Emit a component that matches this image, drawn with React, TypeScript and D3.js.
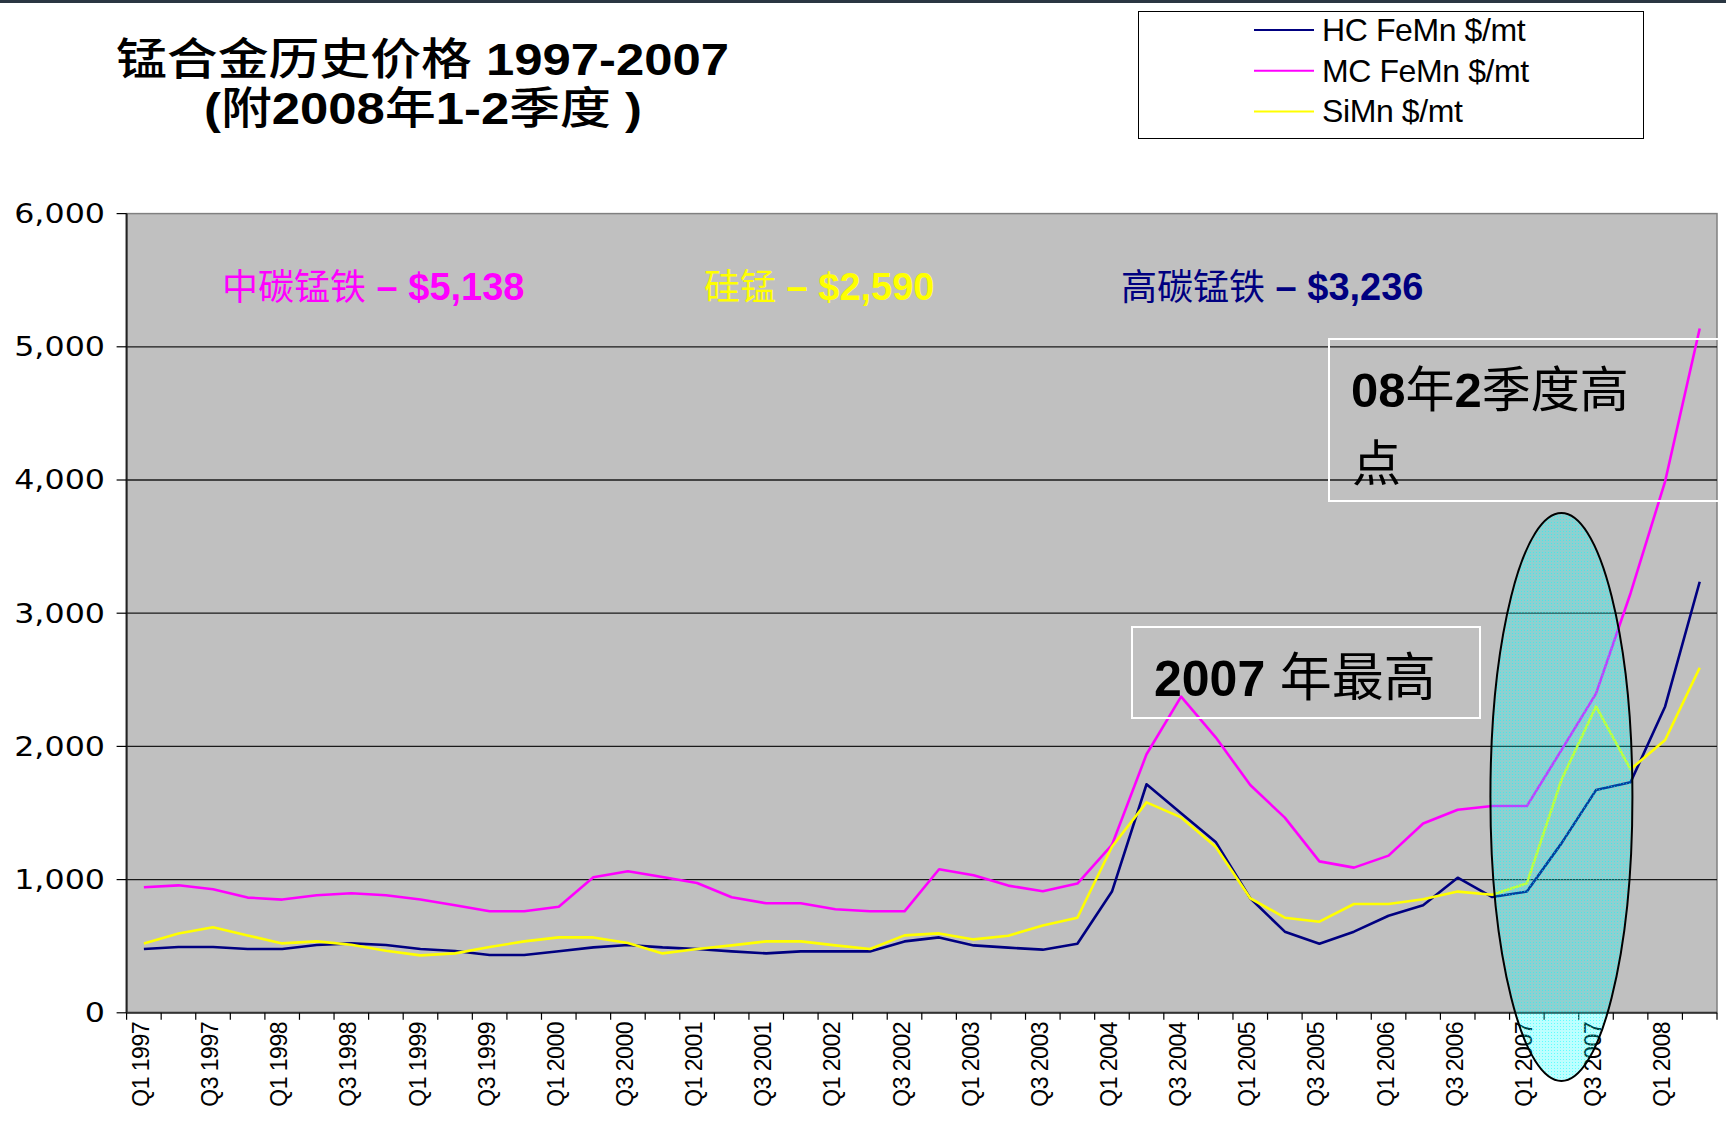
import React from "react";
import * as d3 from "d3";

// quarterly prices, Q1 1997 .. Q2 2008
const categories = [
  "Q1 1997", "Q2 1997", "Q3 1997", "Q4 1997",
  "Q1 1998", "Q2 1998", "Q3 1998", "Q4 1998",
  "Q1 1999", "Q2 1999", "Q3 1999", "Q4 1999",
  "Q1 2000", "Q2 2000", "Q3 2000", "Q4 2000",
  "Q1 2001", "Q2 2001", "Q3 2001", "Q4 2001",
  "Q1 2002", "Q2 2002", "Q3 2002", "Q4 2002",
  "Q1 2003", "Q2 2003", "Q3 2003", "Q4 2003",
  "Q1 2004", "Q2 2004", "Q3 2004", "Q4 2004",
  "Q1 2005", "Q2 2005", "Q3 2005", "Q4 2005",
  "Q1 2006", "Q2 2006", "Q3 2006", "Q4 2006",
  "Q1 2007", "Q2 2007", "Q3 2007", "Q4 2007",
  "Q1 2008", "Q2 2008",
];

const hcFeMn = [
  479, 494, 494, 479, 479, 509, 521, 509, 479, 464, 434, 434,
  462, 491, 509, 491, 479, 461, 446, 461, 461, 461, 536, 566,
  506, 489, 474, 519, 910, 1716, 1498, 1283, 860, 609, 519, 609,
  729, 807, 1014, 869, 910, 1272, 1672, 1731, 2300, 3236,
];

const mcFeMn = [
  942, 957, 927, 865, 850, 882, 897, 882, 850, 807, 762, 762,
  796, 1017, 1063, 1020, 975, 867, 822, 822, 777, 762, 762, 1078,
  1032, 955, 912, 970, 1260, 1941, 2374, 2068, 1710, 1465, 1137, 1090,
  1180, 1421, 1524, 1552, 1552, 1972, 2396, 3150, 3990, 5138,
];

const siMn = [
  521, 596, 642, 581, 521, 536, 511, 466, 431, 446, 494, 536,
  566, 566, 524, 446, 479, 506, 536, 536, 506, 479, 581, 596,
  551, 579, 655, 714, 1247, 1580, 1467, 1247, 860, 714, 684, 817,
  817, 852, 910, 886, 972, 1748, 2300, 1828, 2048, 2590,
];

const yTicks = [0, 1000, 2000, 3000, 4000, 5000, 6000];

const series = [
  { name: "HC FeMn $/mt", color: "#000080", values: hcFeMn },
  { name: "MC FeMn $/mt", color: "#FF00FF", values: mcFeMn },
  { name: "SiMn $/mt", color: "#FFFF00", values: siMn },
];

const W = 1726;
const H = 1134;
const plot = { left: 126.6, right: 1717, top: 213.6, bottom: 1012.8 };
const latin = "'Liberation Sans', Arial, 'Noto Sans CJK SC', sans-serif";

export default function App() {
  const x = d3
    .scaleBand<string>()
    .domain(categories)
    .range([plot.left, plot.right])
    .padding(0);
  const y = d3.scaleLinear().domain([0, 6000]).range([plot.bottom, plot.top]);
  const cx = (c: string) => (x(c) as number) + x.bandwidth() / 2;

  const line = d3
    .line<number>()
    .x((_, i) => cx(categories[i]))
    .y((d) => y(d));

  // boundaries for x ticks
  const bounds = categories.map((c) => x(c) as number).concat([plot.right]);

  return (
    <svg
      width={W}
      height={H}
      style={{ position: "absolute", left: 0, top: 0, display: "block", background: "#fff" }}
      fontFamily={latin}
    >
      <defs>
        <pattern id="dots" width={3} height={3} patternUnits="userSpaceOnUse">
          <rect width={3} height={3} fill="#00FFFF" fillOpacity={0.26} />
          <rect width={1} height={1} fill="#00FFFF" fillOpacity={0.5} />
        </pattern>
      </defs>
      <rect x={0} y={0} width={W} height={3} fill="#2a3642" />

      {/* title */}
      <text x={116} y={75} fontSize={44} textLength={613} lengthAdjust="spacingAndGlyphs">
        <tspan fontWeight={500}>锰合金历史价格 </tspan>
        <tspan fontWeight="bold">1997-2007</tspan>
      </text>
      <text x={204} y={124} fontSize={44} textLength={438} lengthAdjust="spacingAndGlyphs">
        <tspan fontWeight="bold">(</tspan>
        <tspan fontWeight={500}>附</tspan>
        <tspan fontWeight="bold">2008</tspan>
        <tspan fontWeight={500}>年</tspan>
        <tspan fontWeight="bold">1-2</tspan>
        <tspan fontWeight={500}>季度 </tspan>
        <tspan fontWeight="bold">)</tspan>
      </text>

      {/* legend */}
      <rect x={1138.5} y={11.5} width={505} height={127} fill="#fff" stroke="#000" strokeWidth={1} />
      {series.map((s, i) => {
        const ly = 30 + i * 40.7;
        return (
          <g key={s.name}>
            <line x1={1254} x2={1314} y1={ly} y2={ly} stroke={s.color} strokeWidth={2} />
            <text x={1322} y={ly + 11} fontSize={32} letterSpacing={-0.4}>
              {s.name}
            </text>
          </g>
        );
      })}

      {/* plot area */}
      <rect
        x={plot.left}
        y={plot.top}
        width={plot.right - plot.left}
        height={plot.bottom - plot.top}
        fill="#C0C0C0"
        stroke="#808080"
        strokeWidth={1.5}
      />
      {yTicks
        .filter((t) => t > 0 && t < 6000)
        .map((t) => (
          <line
            key={t}
            x1={plot.left}
            x2={plot.right}
            y1={y(t)}
            y2={y(t)}
            stroke="#1a1a1a"
            strokeWidth={1.3}
          />
        ))}

      {/* series */}
      {series.map((s) => (
        <path
          key={s.name}
          d={line(s.values) as string}
          fill="none"
          stroke={s.color}
          strokeWidth={2.6}
          strokeLinejoin="round"
        />
      ))}

      {/* axes */}
      <line x1={plot.left} x2={plot.left} y1={plot.top} y2={plot.bottom} stroke="#222" strokeWidth={2} />
      <line x1={plot.left} x2={plot.right} y1={plot.bottom} y2={plot.bottom} stroke="#333" strokeWidth={2} />
      {yTicks.map((t) => (
        <g key={t}>
          <line x1={plot.left - 10} x2={plot.left} y1={y(t)} y2={y(t)} stroke="#000" strokeWidth={1.2} />
          <g transform={`translate(105,${y(t)}) scale(1.22,1)`}>
            <text x={0} y={0} dy="0.36em" textAnchor="end" fontSize={26} fontFamily="'DejaVu Sans', sans-serif">
              {d3.format(",")(t)}
            </text>
          </g>
        </g>
      ))}
      {bounds.map((b, i) => (
        <line key={i} x1={b} x2={b} y1={plot.bottom} y2={plot.bottom + 7} stroke="#000" strokeWidth={1.2} />
      ))}
      {categories
        .filter((_, i) => i % 2 === 0)
        .map((c) => (
          <text
            key={c}
            transform={`translate(${cx(c) - 3},1022) rotate(-90)`}
            textAnchor="end"
            dy="0.35em"
            fontSize={23}
            letterSpacing={-0.5}
          >
            {c}
          </text>
        ))}

      {/* price labels */}
      <text x={222} y={300} fontSize={36} fill="#FF00FF">
        <tspan>中碳锰铁</tspan>
        <tspan fontWeight="bold" fontSize={38}> – $5,138</tspan>
      </text>
      <text x={704} y={300} fontSize={36} fill="#FFFF00">
        <tspan>硅锰</tspan>
        <tspan fontWeight="bold" fontSize={38}> – $2,590</tspan>
      </text>
      <text x={1121} y={300} fontSize={36} fill="#000080">
        <tspan>高碳锰铁</tspan>
        <tspan fontWeight="bold" fontSize={38}> – $3,236</tspan>
      </text>

      {/* annotation boxes */}
      <rect x={1132} y={627} width={348} height={91} fill="none" stroke="#fff" strokeWidth={2} />
      <text x={1154} y={696} fontSize={52}>
        <tspan fontWeight="bold" fontSize={50}>2007</tspan>
        <tspan> 年最高</tspan>
      </text>
      <rect x={1329} y={339} width={W - 1329 + 2} height={162} fill="none" stroke="#fff" strokeWidth={2} />
      <text x={1351} y={407} fontSize={49}>
        <tspan fontWeight="bold">08</tspan>
        <tspan>年</tspan>
        <tspan fontWeight="bold">2</tspan>
        <tspan>季度高</tspan>
      </text>
      <text x={1352} y={481} fontSize={49}>
        点
      </text>

      {/* highlight ellipse over 2007 */}
      <ellipse
        cx={cx("Q2 2007")}
        cy={y(1620)}
        rx={71}
        ry={284}
        fill="url(#dots)"
        stroke="#000"
        strokeWidth={2}
      />
    </svg>
  );
}
